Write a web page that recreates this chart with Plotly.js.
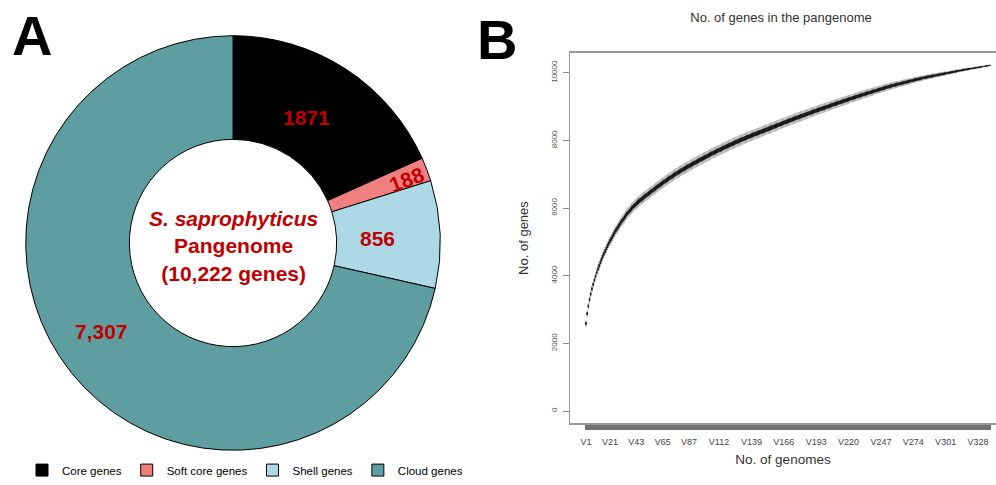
<!DOCTYPE html>
<html><head><meta charset="utf-8">
<script src="https://cdn.plot.ly/plotly-3.0.1.min.js"></script>
<style>html,body{margin:0;padding:0;background:#fff;} #chart{width:996px;height:485px;}</style>
</head><body><div id="chart"></div>
<script>
// ---- Panel A data ----
const sliceLabels = ['Core genes','Soft core genes','Shell genes','Cloud genes'];
const sliceValues = [1871, 188, 856, 7307];
const sliceText = ['1871', '188', '856', '7,307'];
const sliceColors = ['#000000', '#F08080', '#ADD8E6', '#5F9EA0'];

// ---- Panel B data: median pangenome size per number of genomes (V1..V338) ----
const medianGenes = [
 2590,2880,3105,3295,3460,3610,3745,3870,3985,4095,
 4200,4300,4395,4485,4570,4652,4731,4807,4881,4953,
 5023,5091,5157,5221,5283,5343,5401,5458,5513,5567,
 5620,5671,5721,5770,5818,5863,5906,5947,5987,6025,
 6062,6097,6131,6164,6196,6227,6257,6286,6314,6342,
 6370,6398,6426,6454,6481,6508,6535,6562,6589,6616,
 6643,6669,6695,6721,6747,6772,6797,6822,6847,6871,
 6895,6919,6943,6967,6991,7014,7037,7059,7081,7103,
 7124,7145,7166,7187,7208,7228,7248,7268,7288,7308,
 7328,7348,7367,7386,7405,7424,7443,7462,7481,7500,
 7519,7538,7557,7576,7594,7612,7630,7648,7666,7684,
 7701,7718,7735,7752,7769,7786,7803,7820,7837,7854,
 7870,7886,7902,7918,7934,7950,7966,7982,7997,8012,
 8027,8042,8057,8072,8087,8102,8117,8132,8146,8160,
 8174,8188,8202,8216,8230,8244,8258,8272,8286,8300,
 8314,8328,8342,8356,8370,8384,8398,8412,8426,8440,
 8454,8468,8482,8496,8510,8524,8538,8552,8566,8580,
 8594,8608,8622,8636,8649,8662,8675,8688,8701,8714,
 8727,8740,8753,8766,8779,8792,8805,8818,8831,8844,
 8857,8870,8883,8896,8909,8922,8934,8946,8958,8970,
 8982,8994,9007,9020,9033,9046,9059,9071,9083,9095,
 9107,9119,9131,9143,9155,9167,9179,9191,9203,9215,
 9227,9239,9251,9263,9275,9287,9299,9311,9323,9335,
 9346,9357,9368,9379,9390,9401,9412,9423,9434,9445,
 9456,9467,9478,9489,9500,9511,9522,9533,9544,9555,
 9566,9577,9588,9598,9608,9618,9628,9637,9646,9655,
 9664,9673,9682,9691,9700,9709,9718,9727,9736,9745,
 9754,9763,9772,9781,9790,9799,9808,9817,9825,9833,
 9841,9849,9857,9865,9873,9880,9887,9894,9901,9908,
 9915,9922,9929,9936,9943,9950,9957,9964,9971,9978,
 9985,9992,9999,10006,10013,10020,10027,10034,10041,10048,
 10055,10062,10068,10075,10082,10089,10096,10102,10108,10114,
 10120,10126,10132,10138,10144,10150,10156,10162,10168,10174,
 10180,10186,10192,10198,10204,10210,10216,10222
];
// half inter-quartile range and half whisker range, per block of 10 genomes
const iqrHalfByBlock = [35,45,50,52,55,55,55,55,55,55,55,55,55,55,55,55,52,52,50,50,48,46,44,42,40,38,35,32,28,24,20,15,10,4];
const whiskerHalfByBlock = [90,120,135,145,150,150,150,150,150,150,150,150,150,150,145,145,140,140,135,130,125,120,115,110,100,95,85,75,65,55,45,35,22,8];
const xTickLabels = ['V1','V21','V43','V65','V87','V112','V139','V166','V193','V220','V247','V274','V301','V328'];
const yTickValues = [0,2000,4000,6000,8000,10000];

// ---- build ----
const W = 996, H = 485;
const genomes = medianGenes.map((_, i) => i + 1);
const blk = i => Math.floor(i / 10);
const q1 = medianGenes.map((m, i) => m - iqrHalfByBlock[blk(i)]);
const q3 = medianGenes.map((m, i) => m + iqrHalfByBlock[blk(i)]);
const lo = medianGenes.map((m, i) => m - whiskerHalfByBlock[blk(i)]);
const hi = medianGenes.map((m, i) => m + whiskerHalfByBlock[blk(i)]);
const tickText = genomes.map(g => xTickLabels.includes('V' + g) ? 'V' + g : '');

const FONT = '"Liberation Sans", Arial, Helvetica, sans-serif';
const RED = '#C00000';

const pieCx = 233, pieCy = 245, pieR = 209;
const pie = {
  type: 'pie', labels: sliceLabels, values: sliceValues,
  marker: { colors: sliceColors, line: { color: '#000', width: 1 } },
  hole: 0.5, sort: false, direction: 'clockwise', rotation: 0,
  textinfo: 'none', hoverinfo: 'skip',
  domain: { x: [(pieCx - pieR) / W, (pieCx + pieR) / W], y: [(H - pieCy - pieR) / H, (H - pieCy + pieR) / H] }
};

// whiskers (grey) and boxes (black) drawn as two overlaid box traces
const whiskers = {
  type: 'box', x: genomes, q1: q1, median: medianGenes, q3: q3,
  lowerfence: lo, upperfence: hi,
  fillcolor: 'rgba(0,0,0,0)', line: { color: '#8a8a8a', width: 0.7 },
  whiskerwidth: 1, boxpoints: false, showlegend: false, hoverinfo: 'skip'
};
const boxes = {
  type: 'box', x: genomes, q1: q1, median: medianGenes, q3: q3,
  lowerfence: q1, upperfence: q3,
  fillcolor: '#111', line: { color: '#111', width: 0.7 },
  boxpoints: false, showlegend: false, hoverinfo: 'skip'
};

// slice value labels
const total = sliceValues.reduce((a, b) => a + b, 0);
const labelRadius = [148, 186, 145, 158];
const labelAngleNudge = [-3, 0, 0, 5];
const labelRotate = [false, true, false, false];
const annotations = [];
let cum = 0;
sliceValues.forEach((v, i) => {
  const mid = (cum + v / 2) / total * 360 + labelAngleNudge[i];
  cum += v;
  const rad = mid * Math.PI / 180;
  const px = pieCx + labelRadius[i] * Math.sin(rad);
  const py = pieCy + 2 - labelRadius[i] * Math.cos(rad);
  annotations.push({
    x: px / W, y: 1 - py / H, xref: 'paper', yref: 'paper', showarrow: false,
    text: '<b>' + sliceText[i] + '</b>', textangle: labelRotate[i] ? -(90 - mid) : 0,
    font: { family: FONT, size: 21, color: RED }, xanchor: 'center', yanchor: 'middle'
  });
});
annotations.push({
  x: pieCx / W, y: 1 - (pieCy + 3) / H, xref: 'paper', yref: 'paper', showarrow: false,
  text: '<b><i>S. saprophyticus</i><br>Pangenome<br>(' + total.toLocaleString('en-US') + ' genes)</b>',
  font: { family: FONT, size: 21, color: RED }, xanchor: 'center', yanchor: 'middle', align: 'center'
});
annotations.push({ x: 32 / W, y: 1 - 36 / H, xref: 'paper', yref: 'paper', showarrow: false,
  text: '<b>A</b>', font: { family: FONT, size: 56, color: '#000' }, xanchor: 'center', yanchor: 'middle' });
annotations.push({ x: 497 / W, y: 1 - 40 / H, xref: 'paper', yref: 'paper', showarrow: false,
  text: '<b>B</b>', font: { family: FONT, size: 56, color: '#000' }, xanchor: 'center', yanchor: 'middle' });

const layout = {
  width: W, height: H, margin: { l: 0, r: 0, t: 0, b: 0 },
  paper_bgcolor: '#fff', plot_bgcolor: '#fff',
  showlegend: true, boxmode: 'overlay',
  legend: {
    orientation: 'h', x: 22 / W, xanchor: 'left', y: 1 - 474 / H, yanchor: 'middle',
    font: { family: FONT, size: 11.5, color: '#000' },
    traceorder: 'normal', bgcolor: 'rgba(0,0,0,0)'
  },
  title: { text: 'No. of genes in the pangenome', x: 781 / W, xanchor: 'center', y: 1 - 17 / H, yanchor: 'middle',
    font: { family: FONT, size: 13, color: '#333' } },
  xaxis: {
    domain: [570 / W, 1], range: [-12.3, 343], showgrid: false, zeroline: false,
    showline: true, mirror: true, linecolor: '#999', linewidth: 1.5,
    ticks: 'outside', ticklen: 5, tickwidth: 1.6, tickcolor: '#707070',
    tickmode: 'array', tickvals: genomes, ticktext: tickText, tickangle: 0,
    ticklabelstandoff: 4,
    tickfont: { family: FONT, size: 9, color: '#444' }, automargin: false,
    title: { text: 'No. of genomes', font: { family: FONT, size: 13.5, color: '#333' }, standoff: 9 }
  },
  yaxis: {
    domain: [58 / H, 432 / H], range: [-367, 10601], showgrid: false, zeroline: false,
    showline: true, linecolor: '#999', linewidth: 1.5,
    ticks: 'outside', ticklen: 6, tickwidth: 1, tickcolor: '#888',
    tickmode: 'array', tickvals: yTickValues, ticktext: yTickValues.map(String), tickangle: -90,
    ticklabelstandoff: 2,
    tickfont: { family: FONT, size: 8, color: '#555' }, automargin: false,
    title: { text: 'No. of genes', font: { family: FONT, size: 13, color: '#333' }, standoff: 18 }
  },
  annotations: annotations
};

Plotly.newPlot('chart', [pie, whiskers, boxes], layout, { displayModeBar: false, staticPlot: true });
</script>
</body></html>
